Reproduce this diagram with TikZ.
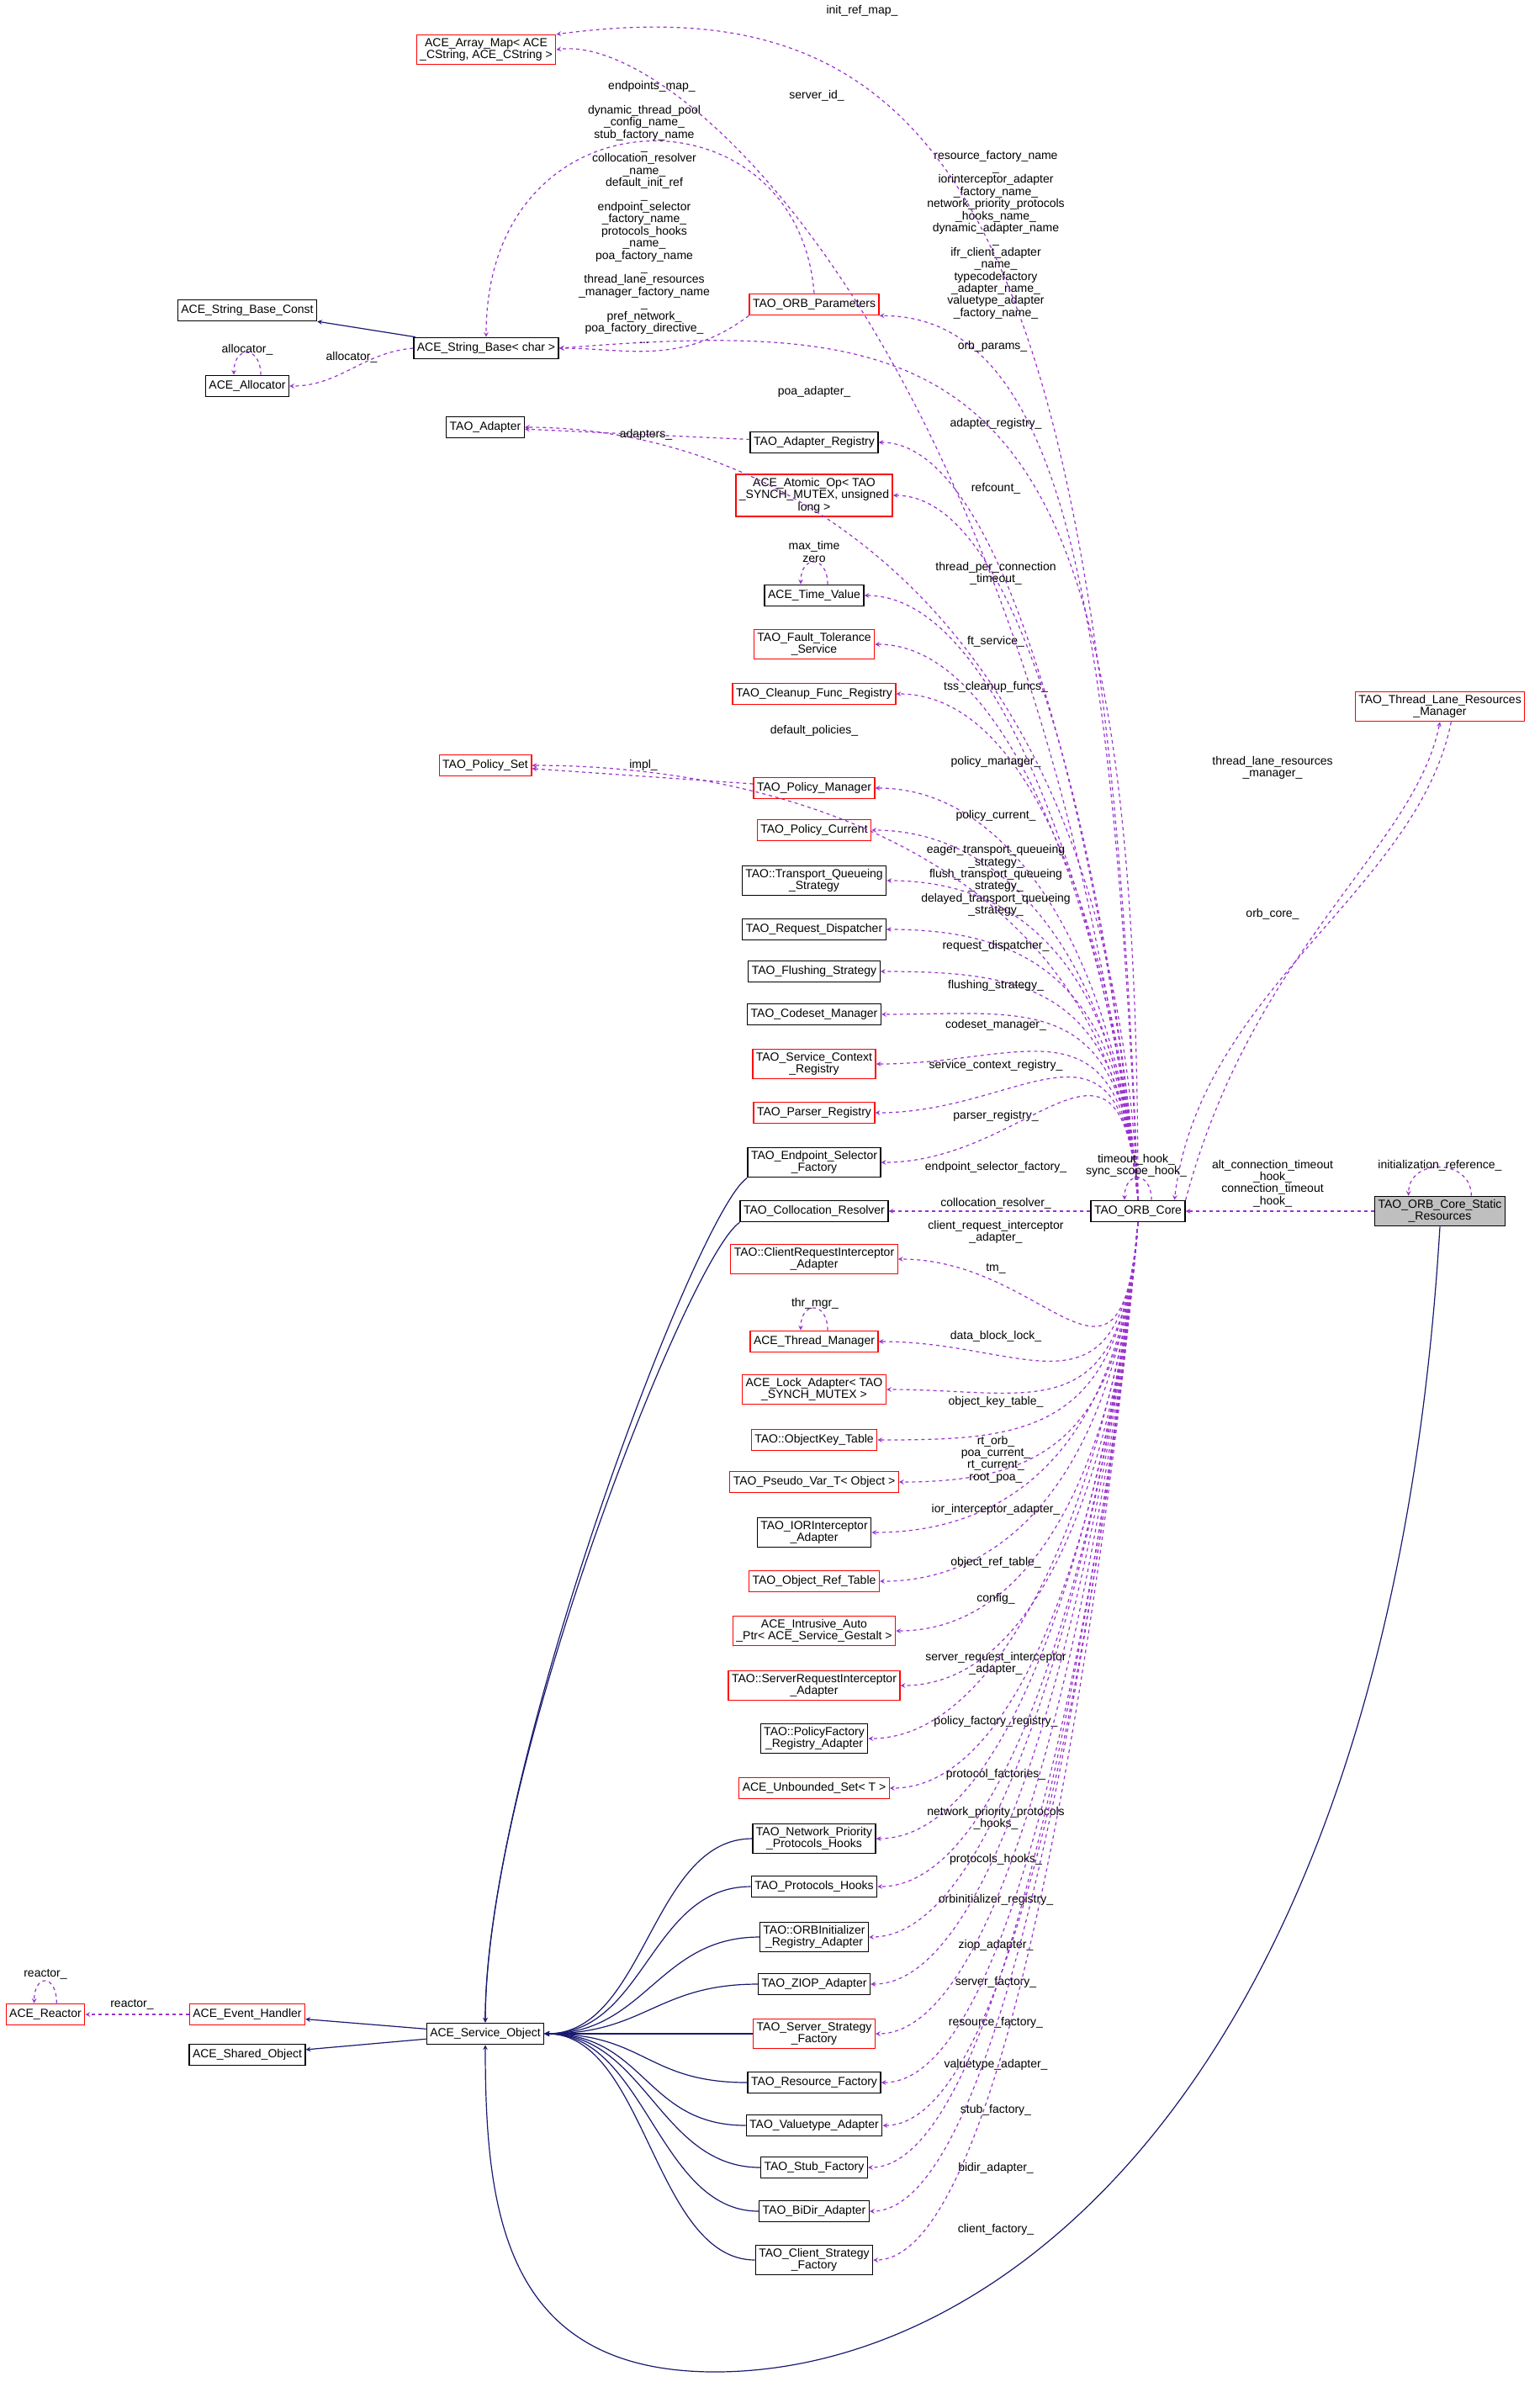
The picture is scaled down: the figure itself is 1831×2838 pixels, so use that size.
\documentclass[tikz,border=0pt]{standalone}
\usepackage{fontspec}
\setmainfont{Liberation Sans}
\usetikzlibrary{arrows}
\definecolor{depc}{RGB}{154,50,205}
\definecolor{inhc}{RGB}{25,25,112}
\tikzstyle{box} = [rectangle, draw=black, fill=white, line width=1pt, inner sep=3pt, minimum height=19pt, align=center, font=\fontsize{10.5}{10.8}\selectfont]
\tikzstyle{rbox} = [box, draw=red]
\tikzstyle{lbl} = [align=center, font=\fontsize{10.5}{10.8}\selectfont, inner sep=0pt]
\tikzstyle{dep} = [depc, dashed, line width=0.9pt, ->, >=stealth]
\tikzstyle{inh} = [inhc, line width=0.9pt, ->, >=stealth]

\begin{document}
\begin{tikzpicture}[x=0.75pt, y=-0.75pt]
  \useasboundingbox (0,0) rectangle (1831,2838);
  % classes
  \node (arrmap) [rbox] at (578,59) {ACE\_Array\_Map< ACE\\\_CString, ACE\_CString >};
  \node (strconst) [box] at (294,369) {ACE\_String\_Base\_Const};
  \node (strbase) [box] at (578,414) {ACE\_String\_Base< char >};
  \node (alloc) [box] at (294,459) {ACE\_Allocator};
  \node (orbparams) [rbox] at (968,362) {TAO\_ORB\_Parameters};
  \node (adapter) [box] at (577,508) {TAO\_Adapter};
  \node (adreg) [box] at (968,526) {TAO\_Adapter\_Registry};
  \node (atomic) [rbox] at (968,589) {ACE\_Atomic\_Op< TAO\\\_SYNCH\_MUTEX, unsigned\\long >};
  \node (timeval) [box] at (968,708) {ACE\_Time\_Value};
  \node (ftsvc) [rbox] at (968,766) {TAO\_Fault\_Tolerance\\\_Service};
  \node (cleanup) [rbox] at (968,825) {TAO\_Cleanup\_Func\_Registry};
  \node (polset) [rbox] at (577,910) {TAO\_Policy\_Set};
  \node (polmgr) [rbox] at (968,937) {TAO\_Policy\_Manager};
  \node (polcur) [rbox] at (968,987) {TAO\_Policy\_Current};
  \node (tqs) [box] at (968,1047) {TAO::Transport\_Queueing\\\_Strategy};
  \node (reqdisp) [box] at (968,1105) {TAO\_Request\_Dispatcher};
  \node (flush) [box] at (968,1155) {TAO\_Flushing\_Strategy};
  \node (codeset) [box] at (968,1206) {TAO\_Codeset\_Manager};
  \node (scr) [rbox] at (968,1265) {TAO\_Service\_Context\\\_Registry};
  \node (parser) [rbox] at (968,1323) {TAO\_Parser\_Registry};
  \node (eps) [box] at (968,1382) {TAO\_Endpoint\_Selector\\\_Factory};
  \node (colres) [box] at (968,1440) {TAO\_Collocation\_Resolver};
  \node (cria) [rbox] at (968,1497) {TAO::ClientRequestInterceptor\\\_Adapter};
  \node (thrmgr) [rbox] at (968,1595) {ACE\_Thread\_Manager};
  \node (lockad) [rbox] at (968,1652) {ACE\_Lock\_Adapter< TAO\\\_SYNCH\_MUTEX >};
  \node (okt) [rbox] at (968,1712) {TAO::ObjectKey\_Table};
  \node (pvar) [rbox] at (968,1762) {TAO\_Pseudo\_Var\_T< Object >};
  \node (iora) [box] at (968,1822) {TAO\_IORInterceptor\\\_Adapter};
  \node (ort) [rbox] at (968,1880) {TAO\_Object\_Ref\_Table};
  \node (iap) [rbox] at (968,1939) {ACE\_Intrusive\_Auto\\\_Ptr< ACE\_Service\_Gestalt >};
  \node (sria) [rbox] at (968,2004) {TAO::ServerRequestInterceptor\\\_Adapter};
  \node (pfra) [box] at (968,2067) {TAO::PolicyFactory\\\_Registry\_Adapter};
  \node (uset) [rbox] at (968,2126) {ACE\_Unbounded\_Set< T >};
  \node (nph) [box] at (968,2186) {TAO\_Network\_Priority\\\_Protocols\_Hooks};
  \node (ph) [box] at (968,2243) {TAO\_Protocols\_Hooks};
  \node (oira) [box] at (968,2303) {TAO::ORBInitializer\\\_Registry\_Adapter};
  \node (ziop) [box] at (968,2359) {TAO\_ZIOP\_Adapter};
  \node (ssf) [rbox] at (968,2418) {TAO\_Server\_Strategy\\\_Factory};
  \node (resf) [box] at (968,2476) {TAO\_Resource\_Factory};
  \node (vta) [box] at (968,2527) {TAO\_Valuetype\_Adapter};
  \node (stubf) [box] at (968,2577) {TAO\_Stub\_Factory};
  \node (bidir) [box] at (968,2629) {TAO\_BiDir\_Adapter};
  \node (csf) [box] at (968,2687) {TAO\_Client\_Strategy\\\_Factory};
  \node (reactor) [rbox] at (54,2395) {ACE\_Reactor};
  \node (evh) [rbox] at (294,2395) {ACE\_Event\_Handler};
  \node (shobj) [box] at (294,2443) {ACE\_Shared\_Object};
  \node (svcobj) [box] at (577,2418) {ACE\_Service\_Object};
  \node (core) [box] at (1353,1440) {TAO\_ORB\_Core};
  \node (statres) [box, fill=lightgray] at (1712,1440) {TAO\_ORB\_Core\_Static\\\_Resources};
  \node (tlrm) [rbox] at (1712,840) {TAO\_Thread\_Lane\_Resources\\\_Manager};
  \coordinate (lowest) at (850,2820);

  % inheritance
  \draw [inh] (strbase) -- (strconst);
  \draw [inh] (svcobj) -- (evh);
  \draw [inh] (svcobj) -- (shobj);
  \foreach \c in {eps, colres}
    \draw [inh] (\c.south west) .. controls +(-60,40) and +(0,-300) .. (svcobj.north);
  \foreach \c in {nph, ph, oira, ziop, ssf, resf, vta, stubf, bidir, csf}
    \draw [inh] (\c.west) .. controls +(-120,0) and +(120,0) .. (svcobj.east);
  \draw [inh] (statres.south) .. controls +(-60,1000) and +(350,0) .. (lowest) .. controls +(-250,0) and +(0,200) .. (svcobj.south);

  % members of TAO_ORB_Core above it
  \foreach \t/\ly/\l in {adreg/504/{adapter\_registry\_}, atomic/581/{refcount\_},
      timeval/682/{thread\_per\_connection\\\_timeout\_}, ftsvc/763/{ft\_service\_},
      cleanup/817/{tss\_cleanup\_funcs\_}, polmgr/906/{policy\_manager\_},
      polcur/970/{policy\_current\_},
      tqs/1047/{eager\_transport\_queueing\\\_strategy\_\\flush\_transport\_queueing\\\_strategy\_\\delayed\_transport\_queueing\\\_strategy\_},
      reqdisp/1125/{request\_dispatcher\_}, flush/1172/{flushing\_strategy\_},
      codeset/1219/{codeset\_manager\_}, scr/1267/{service\_context\_registry\_},
      parser/1327/{parser\_registry\_}, eps/1388/{endpoint\_selector\_factory\_}} {
    \draw [dep] (core.north) .. controls +(-20,-250) and +(180,0) .. (\t.east);
    \node [lbl] at (1184,\ly) {\l};
  }
  \draw [dep] (core) -- (colres);
  \node [lbl] at (1184,1431) {collocation\_resolver\_};
  % members of TAO_ORB_Core below it
  \foreach \t/\ly/\l in {cria/1465/{client\_request\_interceptor\\\_adapter\_}, thrmgr/1508/{tm\_},
      lockad/1589/{data\_block\_lock\_}, okt/1667/{object\_key\_table\_},
      pvar/1735/{rt\_orb\_\\poa\_current\_\\rt\_current\_\\root\_poa\_},
      iora/1795/{ior\_interceptor\_adapter\_}, ort/1858/{object\_ref\_table\_},
      iap/1901/{config\_}, sria/1978/{server\_request\_interceptor\\\_adapter\_},
      pfra/2047/{policy\_factory\_registry\_}, uset/2110/{protocol\_factories\_},
      nph/2162/{network\_priority\_protocols\\\_hooks\_}, ph/2211/{protocols\_hooks\_},
      oira/2259/{orbinitializer\_registry\_}, ziop/2313/{ziop\_adapter\_},
      ssf/2357/{server\_factory\_}, resf/2405/{resource\_factory\_},
      vta/2455/{valuetype\_adapter\_}, stubf/2509/{stub\_factory\_},
      bidir/2578/{bidir\_adapter\_}, csf/2651/{client\_factory\_}} {
    \draw [dep] (core.south) .. controls +(-20,250) and +(180,0) .. (\t.east);
    \node [lbl] at (1184,\ly) {\l};
  }

  % other members
  \draw [dep] (core.north) .. controls +(-30,-700) and +(220,0) .. (orbparams.south east);
  \node [lbl] at (1180,412) {orb\_params\_};
  \draw [dep] (core.north) .. controls +(-30,-700) and +(300,0) .. (adapter.east);
  \node [lbl] at (968,466) {poa\_adapter\_};
  \draw [dep] (core.north) .. controls +(-30,-400) and +(300,0) .. (polset.east);
  \node [lbl] at (968,869) {default\_policies\_};
  \draw [dep] (core.north) .. controls +(0,-1000) and +(500,-40) .. (strbase.east);
  \node [lbl] at (1184,279) {resource\_factory\_name\\\_\\iorinterceptor\_adapter\\\_factory\_name\_\\network\_priority\_protocols\\\_hooks\_name\_\\dynamic\_adapter\_name\\\_\\ifr\_client\_adapter\\\_name\_\\typecodefactory\\\_adapter\_name\_\\valuetype\_adapter\\\_factory\_name\_};
  \draw [dep] (core.north) .. controls +(-40,-1200) and +(450,-60) .. (arrmap.north east);
  \node [lbl] at (1025,13) {init\_ref\_map\_};
  \draw [dep] (core.north) .. controls +(-120,-1000) and +(150,-20) .. (arrmap.east);
  \node [lbl] at (971,114) {server\_id\_};
  \draw [dep] (orbparams.north) .. controls +(-20,-250) and +(0,-300) .. (strbase.north);
  \node [lbl] at (775,103) {endpoints\_map\_};
  \draw [dep] (orbparams.south west) .. controls +(-80,60) and +(80,0) .. (strbase.east);
  \node [lbl] at (766,267) {dynamic\_thread\_pool\\\_config\_name\_\\stub\_factory\_name\\\_\\collocation\_resolver\\\_name\_\\default\_init\_ref\\\_\\endpoint\_selector\\\_factory\_name\_\\protocols\_hooks\\\_name\_\\poa\_factory\_name\\\_\\thread\_lane\_resources\\\_manager\_factory\_name\\\_\\pref\_network\_\\poa\_factory\_directive\_\\...};
  \draw [dep] (strbase.west) .. controls +(-60,5) and +(60,0) .. (alloc.east);
  \node [lbl] at (418,425) {allocator\_};
  \draw [dep] (adreg) -- (adapter);
  \node [lbl] at (768,517) {adapters\_};
  \draw [dep] (polmgr) -- (polset);
  \node [lbl] at (765,910) {impl\_};
  \draw [dep] (evh) -- (reactor);
  \node [lbl] at (157,2383) {reactor\_};
  \draw [dep] (core.north east) .. controls +(80,-300) and +(-30,150) .. (tlrm.south);
  \node [lbl] at (1513,913) {thread\_lane\_resources\\\_manager\_};
  \draw [dep] ([xshift=10pt]tlrm.south) .. controls +(-40,200) and +(30,-250) .. ([xshift=-10pt]core.north east);
  \node [lbl] at (1513,1087) {orb\_core\_};
  \draw [dep] (statres) -- (core);
  \node [lbl] at (1513,1407) {alt\_connection\_timeout\\\_hook\_\\connection\_timeout\\\_hook\_};

  % self references
  \draw [dep] ([xshift=12pt]alloc.north) .. controls +(0,-35) and +(0,-35) .. ([xshift=-12pt]alloc.north);
  \node [lbl] at (294,416) {allocator\_};
  \draw [dep] ([xshift=12pt]timeval.north) .. controls +(0,-35) and +(0,-35) .. ([xshift=-12pt]timeval.north);
  \node [lbl] at (968,656) {max\_time\\zero};
  \draw [dep] ([xshift=12pt]thrmgr.north) .. controls +(0,-35) and +(0,-35) .. ([xshift=-12pt]thrmgr.north);
  \node [lbl] at (969,1550) {thr\_mgr\_};
  \draw [dep] ([xshift=10pt]reactor.north) .. controls +(0,-35) and +(0,-35) .. ([xshift=-10pt]reactor.north);
  \node [lbl] at (54,2347) {reactor\_};
  \draw [dep] ([xshift=28pt]statres.north) .. controls +(0,-45) and +(0,-45) .. ([xshift=-28pt]statres.north);
  \node [lbl] at (1712,1386) {initialization\_reference\_};
  \draw [dep] ([xshift=12pt]core.north) .. controls +(0,-35) and +(0,-35) .. ([xshift=-12pt]core.north);
  \node [lbl] at (1351,1386) {timeout\_hook\_\\sync\_scope\_hook\_};
\end{tikzpicture}
\end{document}
